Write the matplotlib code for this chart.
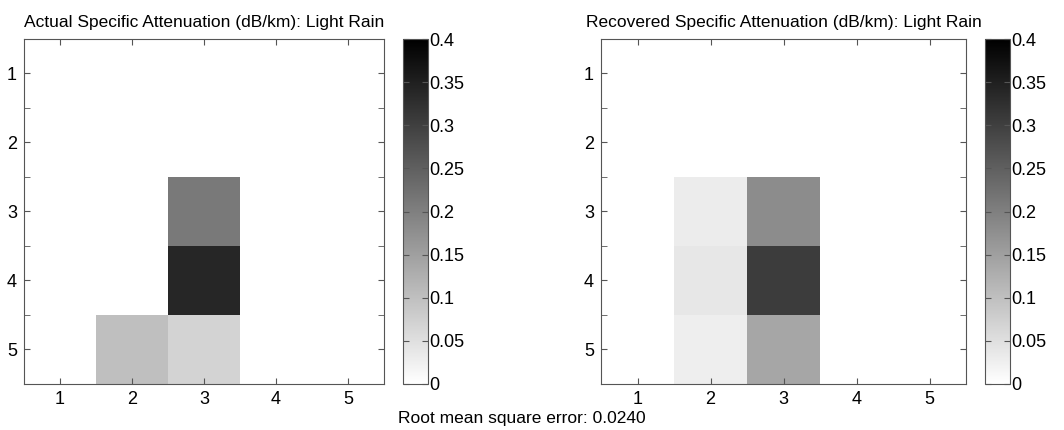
import numpy as np
import matplotlib
matplotlib.use("Agg")
import matplotlib.pyplot as plt
from matplotlib.ticker import MultipleLocator

plt.rcParams['font.family'] = ['Liberation Sans', 'DejaVu Sans']

# grid values (rows 1..5 top to bottom, columns 1..5)
actual = [
    [0, 0, 0, 0, 0],
    [0, 0, 0, 0, 0],
    [0, 0, 0.21, 0, 0],
    [0, 0, 0.34, 0, 0],
    [0, 0.10, 0.07, 0, 0],
]
recovered = [
    [0, 0, 0, 0, 0],
    [0, 0, 0, 0, 0],
    [0, 0.030, 0.18, 0, 0],
    [0, 0.039, 0.305, 0, 0],
    [0, 0.027, 0.14, 0, 0],
]
titles = ["Actual Specific Attenuation (dB/km): Light Rain",
          "Recovered Specific Attenuation (dB/km): Light Rain"]
rmse = 0.0240
vmin, vmax = 0.0, 0.4
cbar_ticks = [0, 0.05, 0.1, 0.15, 0.2, 0.25, 0.3, 0.35, 0.4]
cbar_labels = ["0", "0.05", "0.1", "0.15", "0.2", "0.25", "0.3", "0.35", "0.4"]

fig = plt.figure(figsize=(10.64, 4.30), dpi=100)
W, H = 1064.0, 430.0
edge = "#555555"

def px(x0, x1, y0=39, y1=384):
    return [x0 / W, 1 - y1 / H, (x1 - x0) / W, (y1 - y0) / H]

panels = [(actual, titles[0], px(24, 384), px(403, 428)),
          (recovered, titles[1], px(601, 966), px(985, 1010))]

for data, title, apos, cpos in panels:
    ax = fig.add_axes(apos)
    im = ax.imshow(np.array(data), cmap="gray_r", vmin=vmin, vmax=vmax,
                   extent=(0.5, 5.5, 5.5, 0.5), aspect="auto",
                   interpolation="nearest")
    ax.set_xticks([1, 2, 3, 4, 5])
    ax.set_yticks([1, 2, 3, 4, 5])
    ax.yaxis.set_minor_locator(MultipleLocator(0.5))
    ax.tick_params(which="both", direction="in", top=True, right=True,
                   labelsize=13, color=edge, length=4, pad=5)
    for s in ax.spines.values():
        s.set_color(edge)
    ax.set_title(title, fontsize=12.5, pad=9)

    cax = fig.add_axes(cpos)
    cb = fig.colorbar(im, cax=cax, ticks=cbar_ticks)
    cb.ax.set_yticklabels(cbar_labels)
    cb.outline.set_edgecolor(edge)
    cax.tick_params(direction="in", left=True, right=True, labelsize=13,
                    color=edge, length=4, pad=1)

fig.text(0.49, 1 - 418 / H, "Root mean square error: %.4f" % rmse,
         ha="center", va="center", fontsize=12.5)

fig.savefig("out.png", dpi=100, facecolor="white")
